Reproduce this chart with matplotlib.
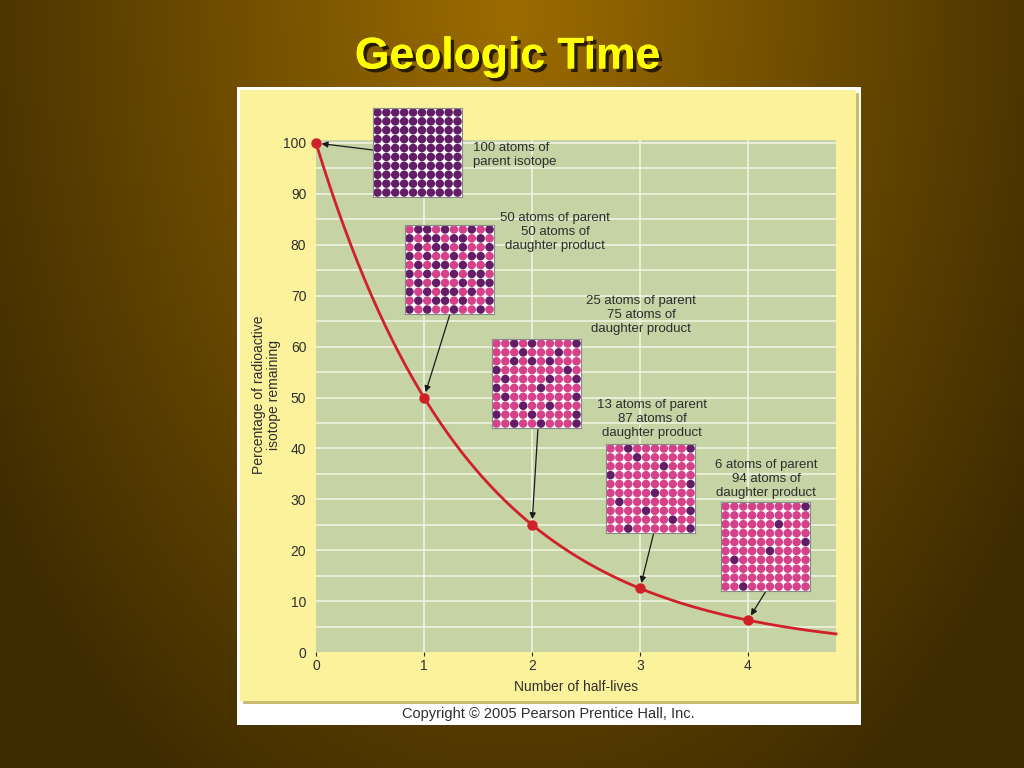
import numpy as np
import matplotlib
matplotlib.use("Agg")
import matplotlib.pyplot as plt
from matplotlib import patheffects as pe
from matplotlib.patches import Rectangle

plt.rcParams['font.family'] = ['Liberation Sans', 'DejaVu Sans']

# ---------------- data ----------------
title = "Geologic Time"
half_lives = [0, 1, 2, 3, 4]
percent_remaining = [100, 50, 25, 12.5, 6.25]
x_max = 4.815
y_ticks = [0, 10, 20, 30, 40, 50, 60, 70, 80, 90, 100]
x_ticks = [0, 1, 2, 3, 4]
x_label = "Number of half-lives"
y_label = "Percentage of radioactive\nisotope remaining"
copyright_text = "Copyright \u00a9 2005 Pearson Prentice Hall, Inc."

box_labels = [
    "100 atoms of\nparent isotope",
    "50 atoms of parent\n50 atoms of\ndaughter product",
    "25 atoms of parent\n75 atoms of\ndaughter product",
    "13 atoms of parent\n87 atoms of\ndaughter product",
    "6 atoms of parent\n94 atoms of\ndaughter product",
]
parent_atoms = [100, 50, 25, 13, 6]
# columns holding a parent (dark) atom, per row, for grids 2..5 (grid 1 is all parent)
grid2_parent = [[1, 2, 4, 7, 9], [0, 2, 3, 5, 6, 8], [1, 3, 4, 6, 9], [0, 2, 5, 7, 8], [1, 3, 4, 6, 9],
                [0, 2, 5, 7, 8], [1, 3, 6, 8, 9], [0, 2, 4, 5, 7], [1, 3, 4, 6, 9], [0, 2, 5, 8]]
grid3_parent = [[2, 4, 9], [3, 7], [2, 4, 6], [0, 8], [1, 6, 9],
                [0, 5], [1, 9], [3, 6], [0, 4, 9], [2, 5, 9]]
grid4_parent = [[2, 9], [3], [6], [0], [9], [5], [1], [4, 9], [7], [2, 9]]
grid5_parent = [[9], [], [6], [], [9], [5], [1], [], [], [2]]
grid1_parent = [list(range(10)) for _ in range(10)]
grids = [grid1_parent, grid2_parent, grid3_parent, grid4_parent, grid5_parent]

# ---------------- layout (pixels) ----------------
W, H = 1024, 768
box_px = [(373, 108), (405, 225), (492, 339), (606, 444), (721, 502)]  # top-left of each grid box
box_size = 89
label_px = [(473, 155, 'left'), (555, 232, 'center'), (641, 315, 'center'),
            (652, 419, 'center'), (766, 479, 'center')]
arrow_start_px = [(373, 150), (450, 314), (538, 428), (654, 532), (766, 591)]

C_PARENT = '#621d66'
C_DAUGHTER = '#d6428a'
C_TEXT = '#2e2e2e'
C_GREEN = '#c5d3a5'
C_YELLOW = '#fcf29b'
C_RED = '#d0202a'

fig = plt.figure(figsize=(W / 100, H / 100), dpi=100)

# background radial gradient
bg = fig.add_axes([0, 0, 1, 1])
yy, xx = np.mgrid[0:H, 0:W]
r = np.sqrt(((xx - 512) / 620.0) ** 2 + ((yy - 10) / 950.0) ** 2)
r = np.clip(r, 0, 1)
c0 = np.array([0x9c, 0x6c, 0x00]) / 255
c1 = np.array([0x3c, 0x2a, 0x00]) / 255
img = c0[None, None, :] * (1 - r[..., None]) + c1[None, None, :] * r[..., None]
bg.imshow(img, extent=[0, W, H, 0], aspect='auto', interpolation='bilinear')
bg.set_xlim(0, W)
bg.set_ylim(H, 0)
bg.axis('off')

# panels
bg.add_patch(Rectangle((237, 87), 624, 638, facecolor='white', edgecolor='none'))
bg.add_patch(Rectangle((243, 93), 616, 611, facecolor='#cbbd70', edgecolor='none'))
bg.add_patch(Rectangle((240, 90), 616, 611, facecolor=C_YELLOW, edgecolor='none'))

# title with drop shadow
bg.text(508, 57, title, fontsize=32, fontweight='bold', color='#ffff00',
        ha='center', va='center',
        path_effects=[pe.withSimplePatchShadow(offset=(2.5, -2.5), shadow_rgbFace='#1e1400', alpha=0.9),
                      pe.Normal()])

bg.text(548, 714, copyright_text, fontsize=10.5, color=C_TEXT, ha='center', va='center')

# main axes
left, right, top, bottom = 316, 836, 140, 652
ax = fig.add_axes([left / W, (H - bottom) / H, (right - left) / W, (bottom - top) / H])
ax.set_facecolor(C_GREEN)
y_top = 100 + (143 - top) / ((bottom - 143) / 100)
ax.set_xlim(0, x_max)
ax.set_ylim(0, y_top)
for v in np.arange(5, 101, 5):
    ax.axhline(v, color='#f3f6e6', lw=1.1, zorder=1)
for v in x_ticks[1:]:
    ax.axvline(v, color='#f3f6e6', lw=1.1, zorder=1)
for s in ax.spines.values():
    s.set_visible(False)
ax.set_xticks(x_ticks)
ax.set_yticks(y_ticks)
ax.tick_params(axis='both', labelsize=10, colors=C_TEXT, length=3, width=0.8)
ax.tick_params(axis='y', length=0, pad=7)
ax.tick_params(axis='x', length=3, pad=2)
ax.set_xlabel(x_label, fontsize=10, color=C_TEXT, labelpad=5)
ax.set_ylabel(y_label, fontsize=10, color=C_TEXT, linespacing=1.05)
ax.yaxis.set_label_coords((281 - left) / (right - left), (bottom - 395) / (bottom - top))

xs = np.linspace(0, x_max, 300)
ax.plot(xs, 100 * 0.5 ** xs, color=C_RED, lw=2.0, zorder=3, clip_on=False)
ax.plot(half_lives, percent_remaining, 'o', color=C_RED, ms=6.5, zorder=4, clip_on=False)

# arrows
for (sx, sy), hx, py in zip(arrow_start_px, half_lives, percent_remaining):
    ax.annotate('', xy=(hx, py), xycoords='data',
                xytext=(sx, H - sy), textcoords='figure pixels',
                arrowprops=dict(arrowstyle='-|>', color='#1a1a1a', lw=0.9,
                                mutation_scale=9, shrinkA=0, shrinkB=4),
                zorder=5, annotation_clip=False)

# labels
for (lx, ly, ha), txt in zip(label_px, box_labels):
    fig.text(lx / W, 1 - ly / H, txt, fontsize=9.5, color=C_TEXT, ha=ha, va='center',
             linespacing=1.2, zorder=6)

# dot grids
for (bx, by), rows in zip(box_px, grids):
    gax = fig.add_axes([bx / W, (H - by - box_size) / H, box_size / W, box_size / H])
    gax.set_facecolor('white')
    gax.set_xlim(-0.5, 9.5)
    gax.set_ylim(9.5, -0.5)
    gx, gy, gc = [], [], []
    for ri, cols in enumerate(rows):
        for ci in range(10):
            gx.append(ci)
            gy.append(ri)
            gc.append(C_PARENT if ci in cols else C_DAUGHTER)
    gax.scatter(gx, gy, s=38, c=gc, edgecolors='none')
    gax.set_xticks([])
    gax.set_yticks([])
    for s in gax.spines.values():
        s.set_color('#8a8a8a')
        s.set_linewidth(0.8)

fig.savefig('out.png', dpi=100)
